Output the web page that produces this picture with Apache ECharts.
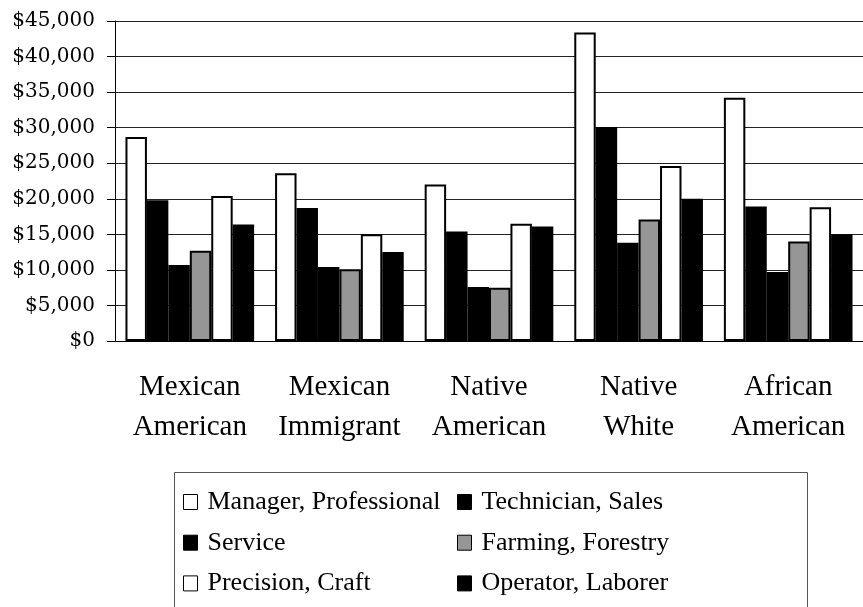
<!DOCTYPE html>
<html>
<head>
<meta charset="utf-8">
<script src="https://cdn.jsdelivr.net/npm/echarts@6/dist/echarts.min.js"></script>
<style>
html,body{margin:0;padding:0;background:#fff;}
#chart{width:863px;height:607px;}
</style>
</head>
<body>
<div id="chart"></div>
<script>
const categories = ['Mexican\nAmerican', 'Mexican\nImmigrant', 'Native\nAmerican', 'Native\nWhite', 'African\nAmerican'];
const seriesNames = ['Manager, Professional', 'Technician, Sales', 'Service', 'Farming, Forestry', 'Precision, Craft', 'Operator, Laborer'];
const managerProfessional = [28700, 23600, 22000, 43400, 34200];
const technicianSales     = [19800, 18700, 15400, 30100, 18900];
const service             = [10700, 10400, 7600, 13800, 9700];
const farmingForestry     = [12700, 10100, 7500, 17100, 14000];
const precisionCraft      = [20400, 15000, 16500, 24600, 18800];
const operatorLaborer     = [16400, 12500, 16100, 20000, 15000];
const yTicks = [0, 5000, 10000, 15000, 20000, 25000, 30000, 35000, 40000, 45000];

const seriesValues = [managerProfessional, technicianSales, service, farmingForestry, precisionCraft, operatorLaborer];
const seriesColors = ['#ffffff', '#000000', '#000000', '#969696', '#ffffff', '#000000'];

const chart = echarts.init(document.getElementById('chart'), null, {renderer: 'canvas'});

const legendText = {fontFamily: 'Liberation Serif', fontSize: 26, color: '#000', lineHeight: 26, padding: [0, 0, 0, 5]};

const option = {
  backgroundColor: '#fff',
  animation: false,
  grid: {left: 115, top: 21, width: 756, height: 320, containLabel: false},
  xAxis: {
    type: 'category',
    data: categories,
    axisLine: {show: true, lineStyle: {color: '#000', width: 1}},
    axisTick: {show: false},
    axisLabel: {
      interval: 0,
      margin: 26,
      fontFamily: 'Liberation Serif',
      fontSize: 29,
      lineHeight: 40,
      color: '#000'
    }
  },
  yAxis: {
    type: 'value',
    min: yTicks[0],
    max: yTicks[yTicks.length - 1],
    interval: yTicks[1] - yTicks[0],
    axisLine: {show: true, lineStyle: {color: '#000', width: 1}},
    axisTick: {show: true, inside: false, length: 8, lineStyle: {color: '#000'}},
    splitLine: {show: true, lineStyle: {color: '#222', width: 1}},
    axisLabel: {
      margin: 20,
      fontFamily: 'DejaVu Serif',
      fontSize: 20,
      color: '#000',
      formatter: function (v) { return '$' + v.toLocaleString('en-US'); }
    }
  },
  legend: [
    {
      orient: 'vertical',
      left: 183,
      top: 489,
      padding: 0,
      itemGap: 14.7,
      itemWidth: 14,
      itemHeight: 15,
      icon: 'rect',
      textStyle: legendText,
      itemStyle: {borderColor: '#000', borderWidth: 1},
      data: [seriesNames[0], seriesNames[2], seriesNames[4]]
    },
    {
      orient: 'vertical',
      left: 457,
      top: 489,
      padding: 0,
      itemGap: 14.7,
      itemWidth: 14,
      itemHeight: 15,
      icon: 'rect',
      textStyle: legendText,
      itemStyle: {borderColor: '#000', borderWidth: 1},
      data: [seriesNames[1], seriesNames[3], seriesNames[5]]
    }
  ],
  graphic: [
    {
      type: 'rect',
      silent: true,
      z: -1,
      shape: {x: 174.5, y: 472.5, width: 633, height: 160},
      style: {fill: '#fff', stroke: '#555', lineWidth: 1}
    }
  ],
  series: seriesNames.map(function (name, i) {
    return {
      name: name,
      type: 'bar',
      data: seriesValues[i],
      barGap: '0%',
      barCategoryGap: '14%',
      itemStyle: {color: seriesColors[i], borderColor: '#000', borderWidth: 2}
    };
  })
};
chart.setOption(option);
</script>
</body>
</html>
